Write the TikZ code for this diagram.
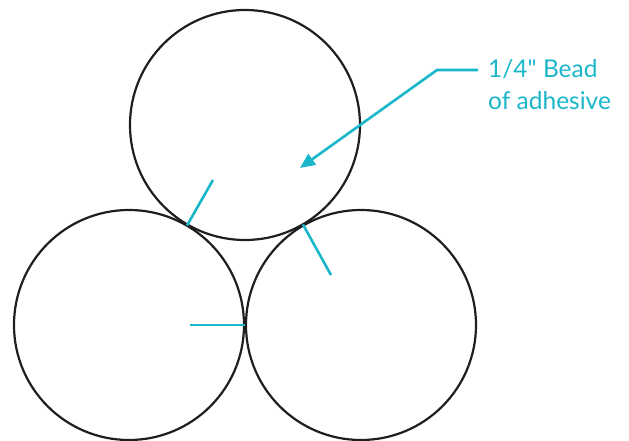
\documentclass[tikz,border=0pt]{standalone}
\usepackage{fontspec}
\setmainfont{Lato}[Ligatures=TeXOff]
\usetikzlibrary{arrows.meta, positioning}
\definecolor{beadcyan}{HTML}{1AB6C9}

\begin{document}
\begin{tikzpicture}[
  x=1pt, y=-1pt, >={Triangle[length=15pt, width=13pt]},
  tube/.style={circle, draw=black!88, line width=2.2pt, minimum size=230pt, inner sep=0pt},
  bead/.style={draw=beadcyan, line width=2.6pt},
  callout/.style={text=beadcyan, font=\fontsize{24.5}{32}\selectfont, align=left, inner sep=0pt}
]
  \useasboundingbox (0,0) rectangle (629,441);
  \node[tube] (top) at (245,125) {};
  \node[tube] (left) at (129,325) {};
  \node[tube] (right) at (361,325) {};
  \node[callout, anchor=north west] (label) at (488,59) {1/4" Bead\\of adhesive};
  \coordinate (lead) at (478,70);
  \coordinate (knee) at (437,70);
  \coordinate (tip) at (300,168);
  \coordinate (beadA) at (213,180);
  \coordinate (beadB) at (331,275);
  \coordinate (beadC) at (190,325);
  \draw[bead, ->] (lead) -- (knee) -- (tip);
  \draw[bead] (top.240) -- (beadA);
  \draw[bead] (right.120) -- (beadB);
  \draw[bead] (left.east) -- (beadC);
\end{tikzpicture}
\end{document}
